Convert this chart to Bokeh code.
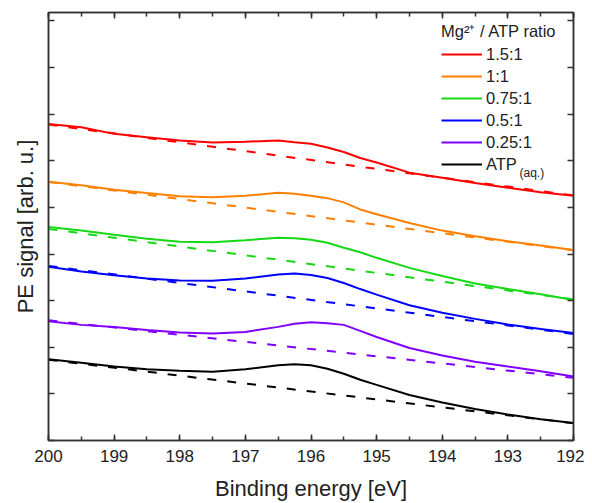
from bokeh.plotting import figure
from bokeh.models import (Range1d, LinearAxis, SingleIntervalTicker, Legend,
                          LegendItem, Label)
from bokeh.embed import file_html
from bokeh.resources import INLINE

# ---------------- data ----------------
energy = [200, 199.5, 199, 198.5, 198, 197.5, 197, 196.5, 196.25, 196,
          195.75, 195.5, 195.25, 195, 194.5, 194, 193.5, 193, 192.5, 192]

ratio_labels = ["1.5:1", "1:1", "0.75:1", "0.5:1", "0.25:1", "ATP"]
colors = ["#FF0000", "#FF8000", "#16D916", "#0000FF", "#8000FF", "#000000"]

sig_15 = [6.789, 6.718, 6.577, 6.502, 6.437, 6.394, 6.409, 6.432, 6.398, 6.365,
          6.285, 6.188, 6.059, 5.961, 5.745, 5.637, 5.522, 5.421, 5.323, 5.248]
sig_10 = [5.550, 5.475, 5.377, 5.306, 5.237, 5.219, 5.248, 5.312, 5.291, 5.248,
          5.198, 5.107, 4.956, 4.852, 4.664, 4.502, 4.383, 4.275, 4.182, 4.086]
sig_075 = [4.577, 4.502, 4.411, 4.329, 4.264, 4.253, 4.296, 4.350, 4.339, 4.307,
           4.242, 4.134, 4.037, 3.918, 3.702, 3.529, 3.366, 3.248, 3.139, 3.014]
sig_05 = [3.728, 3.626, 3.546, 3.475, 3.431, 3.425, 3.475, 3.561, 3.583, 3.550,
          3.485, 3.377, 3.248, 3.129, 2.902, 2.739, 2.609, 2.486, 2.394, 2.307]
sig_025 = [2.560, 2.480, 2.437, 2.372, 2.318, 2.296, 2.329, 2.437, 2.502, 2.534,
           2.517, 2.480, 2.350, 2.221, 1.983, 1.821, 1.691, 1.588, 1.486, 1.371]
sig_atp = [1.745, 1.669, 1.587, 1.529, 1.496, 1.475, 1.529, 1.615, 1.637, 1.615,
           1.539, 1.431, 1.302, 1.194, 0.977, 0.815, 0.674, 0.556, 0.458, 0.376]

# linear backgrounds (value at 200 eV, value at 192 eV)
base_energy = [200, 192]
base_15 = [6.776, 5.256]
base_10 = [5.546, 4.080]
base_075 = [4.538, 3.029]
base_05 = [3.745, 2.285]
base_025 = [2.577, 1.345]
base_atp = [1.732, 0.370]

signals = [sig_15, sig_10, sig_075, sig_05, sig_025, sig_atp]
bases = [base_15, base_10, base_075, base_05, base_025, base_atp]

FONT = "Liberation Sans"
TXT = "#222222"

p = figure(width=584, height=503, output_backend="svg", toolbar_location=None,
           x_range=Range1d(200, 192), y_range=Range1d(0, 9.18),
           min_border_left=48, min_border_right=11, min_border_top=12,
           min_border_bottom=10)
p.grid.visible = False
p.outline_line_color = "#333333"
p.outline_line_width = 1.5
p.background_fill_color = "white"
p.border_fill_color = "white"

xa = p.xaxis[0]
xa.ticker = SingleIntervalTicker(interval=1, num_minor_ticks=2)
xa.axis_label = "Binding energy [eV]"
ya = p.yaxis[0]
ya.ticker = SingleIntervalTicker(interval=1, num_minor_ticks=0)
ya.axis_label = "PE signal [arb. u.]"

top = LinearAxis(ticker=SingleIntervalTicker(interval=1, num_minor_ticks=2))
right = LinearAxis(ticker=SingleIntervalTicker(interval=1, num_minor_ticks=0))
p.add_layout(top, "above")
p.add_layout(right, "right")

for ax in [ya, top, right]:
    ax.major_label_text_font_size = "1px"
    ax.major_label_text_color = None
    ax.major_label_standoff = 0

for ax in [xa, ya, top, right]:
    ax.axis_line_color = "#333333"
    ax.axis_line_width = 1.5
    ax.major_tick_line_color = "#333333"
    ax.major_tick_line_width = 1.5
    ax.minor_tick_line_color = "#333333"
    ax.minor_tick_line_width = 1.5
    ax.major_tick_in = 6
    ax.major_tick_out = 0
    ax.minor_tick_in = 4
    ax.minor_tick_out = 0
    ax.axis_label_text_font = FONT
    ax.axis_label_text_font_style = "normal"
    ax.axis_label_text_font_size = "22px"
    ax.axis_label_text_color = TXT
    ax.major_label_text_font = FONT

xa.major_label_text_font_size = "17px"
xa.major_label_text_color = TXT
xa.major_label_standoff = 9
xa.axis_label_standoff = 11
ya.axis_label_standoff = 11

items = []
for lab, col, sig, base in zip(ratio_labels, colors, signals, bases):
    p.line(base_energy, base, line_color=col, line_width=2, line_dash="9 11")
    r = p.line(energy, sig, line_color=col, line_width=2)
    items.append(LegendItem(label=lab, renderers=[r]))

legend = Legend(items=items, location=(393, 266),
                title="Mg\u00b2\u207a / ATP ratio",
                title_text_font=FONT, title_text_font_size="16.5px",
                title_text_font_style="normal", title_text_color=TXT,
                label_text_font=FONT, label_text_font_size="16.5px",
                label_text_color=TXT,
                glyph_width=41, glyph_height=20, label_height=20,
                label_standoff=4, spacing=2, padding=3, margin=0,
                title_standoff=2,
                border_line_color=None, background_fill_alpha=0)
p.add_layout(legend)

sub = Label(x=471, y=268, x_units="screen", y_units="screen",
            text="(aq.)", text_font=FONT, text_font_size="12px",
            text_baseline="middle", text_color=TXT)
p.add_layout(sub)

open("out.html", "w").write(file_html(p, INLINE))
